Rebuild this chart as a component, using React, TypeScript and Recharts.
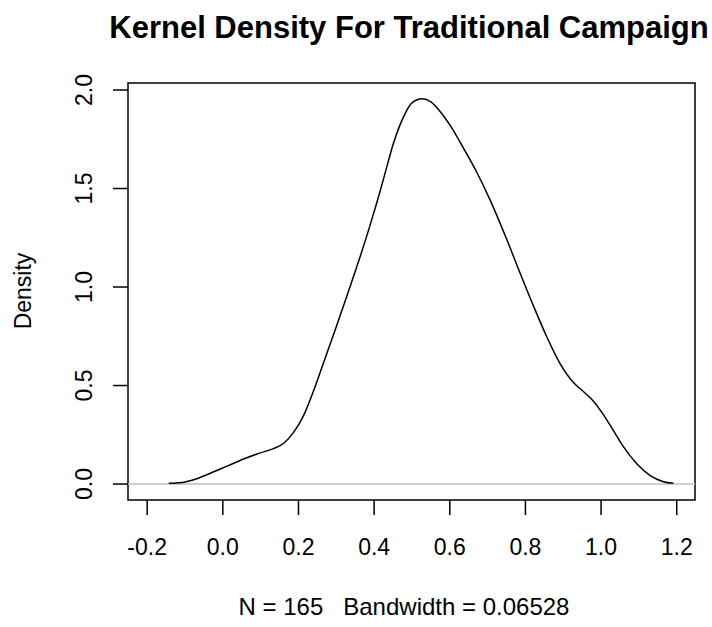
import { LineChart, Line, XAxis, YAxis, ReferenceArea, ReferenceLine } from 'recharts';

const densityX = [
  -0.143, -0.108, -0.077, -0.033, 0.011, 0.055, 0.099, 0.134, 0.161, 0.187, 0.214, 0.24,
  0.267, 0.293, 0.311, 0.337, 0.364, 0.39, 0.408, 0.425, 0.452, 0.478, 0.5, 0.527, 0.55,
  0.575, 0.601, 0.636, 0.672, 0.707, 0.751, 0.786, 0.821, 0.857, 0.892, 0.927, 0.953, 0.98,
  1.006, 1.033, 1.059, 1.095, 1.13, 1.165, 1.191,
];
const densityY = [
  0.004, 0.008, 0.022, 0.055, 0.091, 0.127, 0.158, 0.18, 0.207, 0.262, 0.35, 0.474,
  0.62, 0.76, 0.86, 1.005, 1.16, 1.318, 1.434, 1.55, 1.735, 1.865, 1.935, 1.955, 1.94,
  1.89, 1.82, 1.705, 1.58, 1.44, 1.24, 1.07, 0.905, 0.745, 0.61, 0.515, 0.47, 0.42,
  0.352, 0.27, 0.19, 0.102, 0.043, 0.012, 0.004,
];
const xTicks = [-0.2, 0, 0.2, 0.4, 0.6, 0.8, 1.0, 1.2];
const yTicks = [0, 0.5, 1.0, 1.5, 2.0];

const title = 'Kernel Density For Traditional Campaign';
const xLabel = 'N = 165   Bandwidth = 0.06528';
const yLabel = 'Density';

const X_DOMAIN: [number, number] = [-0.2507, 1.2483];
const Y_DOMAIN: [number, number] = [-0.081, 2.0355];

const data = densityX.map((x, i) => ({ x, y: densityY[i] }));

const FONT = '"Liberation Sans", Arial, sans-serif';

// plot box edges (px)
const LEFT = 128;
const BOTTOM = 500;

const renderXTick = ({ x, payload }: any) => (
  <text x={x} y={BOTTOM + 55} textAnchor="middle" fontSize={23} fontFamily={FONT} fill="#000">
    {Number(payload.value).toFixed(1)}
  </text>
);

const renderYTick = ({ y, payload }: any) => {
  const bx = LEFT - 36;
  return (
    <text
      x={bx}
      y={y}
      transform={`rotate(-90, ${bx}, ${y})`}
      textAnchor="middle"
      fontSize={23}
      fontFamily={FONT}
      fill="#000"
    >
      {Number(payload.value).toFixed(1)}
    </text>
  );
};

export default function App() {
  return (
    <div style={{ position: 'absolute', left: 0, top: 0, width: 712, height: 627, background: '#fff' }}>
      <LineChart width={712} height={627} data={data} margin={{ top: 83, right: 17, bottom: 67, left: 68 }}>
        <XAxis
          dataKey="x"
          type="number"
          domain={X_DOMAIN}
          ticks={xTicks}
          allowDataOverflow
          height={60}
          axisLine={false}
          tickSize={15}
          tickLine={{ stroke: '#000', strokeWidth: 1.5 }}
          tick={renderXTick}
          interval={0}
        />
        <YAxis
          type="number"
          domain={Y_DOMAIN}
          ticks={yTicks}
          allowDataOverflow
          width={60}
          axisLine={false}
          tickSize={15}
          tickLine={{ stroke: '#000', strokeWidth: 1.5 }}
          tick={renderYTick}
          interval={0}
        />
        <ReferenceLine y={0} stroke="#bebebe" strokeWidth={1.5} />
        <ReferenceArea
          x1={X_DOMAIN[0]}
          x2={X_DOMAIN[1]}
          y1={Y_DOMAIN[0]}
          y2={Y_DOMAIN[1]}
          fill="none"
          fillOpacity={0}
          stroke="#000"
          strokeWidth={1.5}
        />
        <Line
          dataKey="y"
          type="monotone"
          stroke="#000"
          strokeWidth={1.5}
          dot={false}
          activeDot={false}
          isAnimationActive={false}
        />
      </LineChart>
      <svg width={712} height={627} style={{ position: 'absolute', left: 0, top: 0, pointerEvents: 'none' }}>
        <text x={409} y={38} textAnchor="middle" fontSize={31} fontWeight="bold" fontFamily={FONT} fill="#000">
          {title}
        </text>
        <text x={404} y={615} textAnchor="middle" fontSize={24} fontFamily={FONT} fill="#000" style={{ whiteSpace: 'pre' }}>
          {xLabel}
        </text>
        <text
          x={31}
          y={291}
          transform="rotate(-90, 31, 291)"
          textAnchor="middle"
          fontSize={23}
          fontFamily={FONT}
          fill="#000"
        >
          {yLabel}
        </text>
      </svg>
    </div>
  );
}
